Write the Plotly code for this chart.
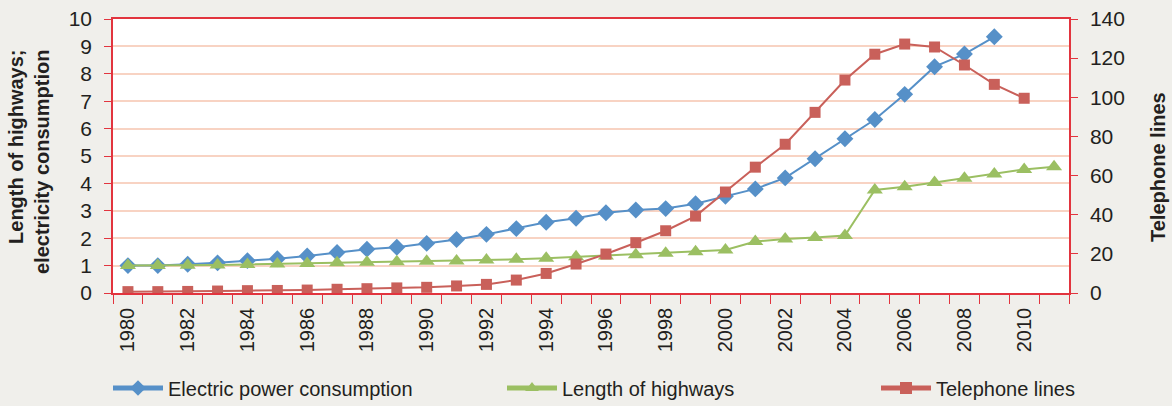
import plotly.graph_objects as go

years = list(range(1980, 2012))
electric = [1.0, 1.0, 1.05, 1.1, 1.18, 1.25, 1.35, 1.48, 1.6, 1.67, 1.81, 1.95, 2.14, 2.35, 2.58,
            2.73, 2.93, 3.03, 3.08, 3.26, 3.53, 3.8, 4.2, 4.9, 5.63, 6.33, 7.25, 8.26, 8.72, 9.35]
highways = [1.0, 1.0, 1.01, 1.02, 1.04, 1.06, 1.08, 1.1, 1.12, 1.14, 1.16, 1.17, 1.2, 1.23, 1.27,
            1.32, 1.35, 1.4, 1.45, 1.51, 1.57, 1.88, 1.97, 2.03, 2.1, 3.76, 3.88, 4.03, 4.19, 4.34,
            4.51, 4.61]
telephone = [0.7, 0.7, 0.8, 1.0, 1.2, 1.3, 1.5, 1.9, 2.2, 2.6, 2.9, 3.6, 4.4, 6.6, 10.0,
             14.8, 19.9, 25.7, 31.8, 39.3, 51.6, 64.3, 76.0, 92.3, 108.8, 122.0, 127.2, 125.7,
             116.5, 106.6, 99.5]
left_ticks = list(range(0, 11))
right_ticks = list(range(0, 141, 20))
x_labels = list(range(1980, 2011, 2))

BLUE = "#5690C8"
GREEN = "#9BBF62"
RED = "#C9605A"
AXIS = "#E2343E"
GRID = "#F8D3C3"
TXT = "#231F20"
BG = "#F0EFEB"
FONT = "Liberation Sans, Arial, sans-serif"

fig = go.Figure()
fig.add_trace(go.Scatter(x=years[:len(electric)], y=electric, name="Electric power consumption",
                         mode="lines+markers", line=dict(color=BLUE, width=2),
                         marker=dict(symbol="diamond", size=13, color=BLUE), legend="legend"))
fig.add_trace(go.Scatter(x=years[:len(highways)], y=highways, name="Length of highways",
                         mode="lines+markers", line=dict(color=GREEN, width=2),
                         marker=dict(symbol="triangle-up", size=14, color=GREEN), legend="legend2"))
fig.add_trace(go.Scatter(x=years[:len(telephone)], y=telephone, name="Telephone lines",
                         mode="lines+markers", line=dict(color=RED, width=2),
                         marker=dict(symbol="square", size=11, color=RED), yaxis="y2",
                         legend="legend3"))

def leg(xpx):
    return dict(orientation="h", xref="container", yref="container", x=xpx / 1172,
                xanchor="left", y=1 - 388 / 406, yanchor="middle",
                font=dict(size=20, color=TXT), bgcolor="rgba(0,0,0,0)", itemwidth=50,
                itemsizing="constant")

fig.update_layout(
    width=1172, height=406,
    margin=dict(l=113, r=103, t=19, b=113, autoexpand=False),
    paper_bgcolor=BG, plot_bgcolor="white",
    font=dict(family=FONT, color=TXT),
    showlegend=True,
    legend=leg(108), legend2=leg(502), legend3=leg(876),
    xaxis=dict(range=[1979.5, 2011.5], tickmode="array", tickvals=x_labels,
               ticktext=[str(v) for v in x_labels], tickangle=-90, ticks="",
               tickfont=dict(size=20, color=TXT), showgrid=False, zeroline=False,
               showline=True, linecolor=AXIS, linewidth=1.5, mirror=True,
               ticklabelstandoff=5, automargin=False,
               minor=dict(tickmode="linear", tick0=1979.5, dtick=1, ticks="outside",
                          ticklen=9, tickcolor=AXIS, tickwidth=1, showgrid=False)),
    yaxis=dict(range=[0, 10], tickvals=left_ticks, ticks="outside", ticklen=7,
               tickcolor=AXIS, tickfont=dict(size=21, color=TXT), showgrid=True,
               gridcolor=GRID, gridwidth=1.5, zeroline=False, showline=True,
               linecolor=AXIS, linewidth=1.5, ticklabelstandoff=8, automargin=False),
    yaxis2=dict(range=[0, 140], tickvals=right_ticks, overlaying="y", side="right",
                ticks="outside", ticklen=7, tickcolor=AXIS,
                tickfont=dict(size=21, color=TXT), showgrid=False, zeroline=False,
                showline=True, linecolor=AXIS, linewidth=1.5, ticklabelstandoff=8,
                automargin=False),
)

fig.add_annotation(text="<b>Length of highways;<br>electricity consumption</b>",
                   xref="paper", yref="paper", x=(29 - 113) / 956, y=1 - (162 - 19) / 274,
                   xanchor="center", yanchor="middle", textangle=-90, align="right",
                   showarrow=False, font=dict(size=20, color=TXT, family=FONT))
fig.add_annotation(text="<b>Telephone lines</b>",
                   xref="paper", yref="paper", x=(1158 - 113) / 956, y=1 - (167 - 19) / 274,
                   xanchor="center", yanchor="middle", textangle=-90,
                   showarrow=False, font=dict(size=20, color=TXT, family=FONT))

fig.write_html("out.html", config={"displayModeBar": False},
               post_script="document.body.style.margin='0';"
                           "document.body.style.background='" + BG + "';")
